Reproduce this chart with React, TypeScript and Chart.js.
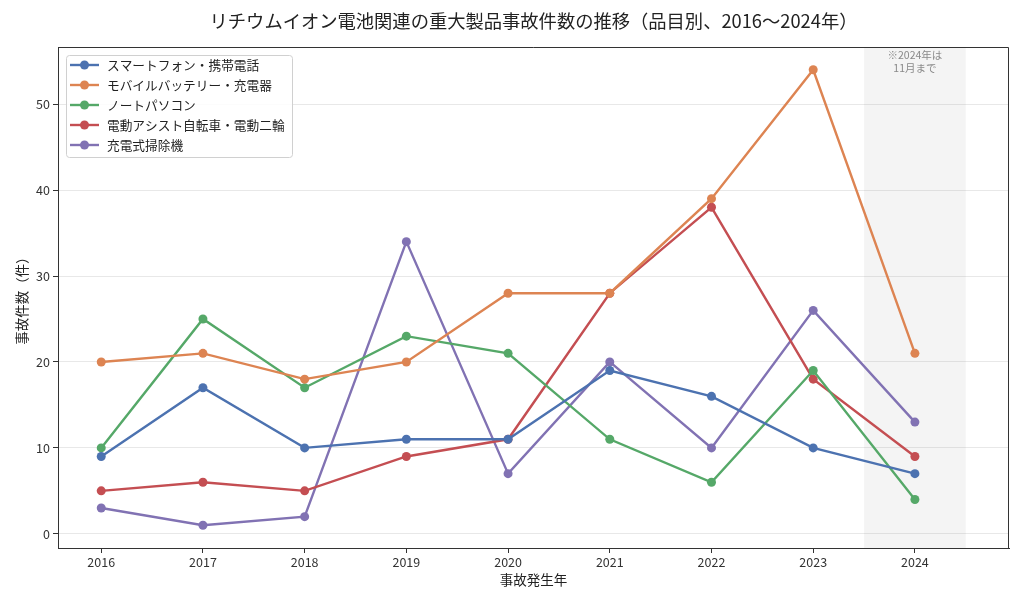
import React, { useEffect, useRef } from 'react';
import { Chart, registerables } from 'chart.js';
Chart.register(...registerables);

const years = [2016, 2017, 2018, 2019, 2020, 2021, 2022, 2023, 2024];
const seriesNames = [
  'スマートフォン・携帯電話',
  'モバイルバッテリー・充電器',
  'ノートパソコン',
  '電動アシスト自転車・電動二輪',
  '充電式掃除機',
];
const smartphone = [9, 17, 10, 11, 11, 19, 16, 10, 7];
const mobileBattery = [20, 21, 18, 20, 28, 28, 39, 54, 21];
const laptop = [10, 25, 17, 23, 21, 11, 6, 19, 4];
const eBike = [5, 6, 5, 9, 11, 28, 38, 18, 9];
const vacuum = [3, 1, 2, 34, 7, 20, 10, 26, 13];
const seriesValues = [smartphone, mobileBattery, laptop, eBike, vacuum];
const colors = ['#4C72B0', '#DD8452', '#55A868', '#C44E52', '#8172B3'];
const yTicks = [0, 10, 20, 30, 40, 50];
const titleText = 'リチウムイオン電池関連の重大製品事故件数の推移（品目別、2016～2024年）';
const xTitle = '事故発生年';
const yTitle = '事故件数（件）';
const noteLines = ['※2024年は', '11月まで'];
const partialYear = 2024;

const FONT = '"Noto Sans CJK JP", "Noto Sans", sans-serif';

const decorPlugin = {
  id: 'decor',
  beforeDatasetsDraw(chart: any) {
    const { ctx, chartArea, scales } = chart;
    const x = scales.x;
    const x0 = x.getPixelForValue(partialYear - 0.5);
    const x1 = x.getPixelForValue(partialYear + 0.5);
    ctx.save();
    ctx.fillStyle = 'rgba(128,128,128,0.09)';
    ctx.fillRect(x0, chartArea.top, x1 - x0, chartArea.bottom - chartArea.top);
    ctx.fillStyle = '#8a8a8a';
    ctx.font = `10.5px ${FONT}`;
    ctx.textAlign = 'center';
    ctx.textBaseline = 'middle';
    const cx = x.getPixelForValue(partialYear);
    noteLines.forEach((l, i) => ctx.fillText(l, cx, chartArea.top + 8 + i * 13));
    ctx.restore();
  },
  afterDraw(chart: any) {
    const { ctx, chartArea } = chart;
    ctx.save();
    // frame (top and right sides)
    ctx.strokeStyle = '#333';
    ctx.lineWidth = 1;
    ctx.beginPath();
    ctx.moveTo(chartArea.left, chartArea.top + 0.5);
    ctx.lineTo(chartArea.right - 0.5, chartArea.top + 0.5);
    ctx.lineTo(chartArea.right - 0.5, chartArea.bottom);
    ctx.stroke();
    // title
    ctx.fillStyle = '#222';
    ctx.textAlign = 'center';
    ctx.textBaseline = 'middle';
    ctx.font = `18.3px ${FONT}`;
    const cx = (chartArea.left + chartArea.right) / 2;
    ctx.fillText(titleText, cx, 21);
    ctx.font = `13.5px ${FONT}`;
    ctx.fillText(xTitle, cx, 580);
    ctx.save();
    ctx.translate(22, (chartArea.top + chartArea.bottom) / 2);
    ctx.rotate(-Math.PI / 2);
    ctx.fillText(yTitle, 0, 0);
    ctx.restore();
    // legend
    const lx = 66, ly = 55, lw = 226, lh = 102;
    ctx.beginPath();
    ctx.roundRect(lx + 0.5, ly + 0.5, lw, lh, 3);
    ctx.fillStyle = 'rgba(255,255,255,0.85)';
    ctx.fill();
    ctx.strokeStyle = '#d0d0d0';
    ctx.stroke();
    chart.data.datasets.forEach((ds: any, i: number) => {
      const yy = ly + 10 + i * 20;
      ctx.strokeStyle = ds.borderColor;
      ctx.lineWidth = 2.4;
      ctx.beginPath();
      ctx.moveTo(70, yy);
      ctx.lineTo(99, yy);
      ctx.stroke();
      ctx.fillStyle = ds.borderColor;
      ctx.beginPath();
      ctx.arc(84.5, yy, 4.5, 0, Math.PI * 2);
      ctx.fill();
      ctx.fillStyle = '#222';
      ctx.textAlign = 'left';
      ctx.font = `12.7px ${FONT}`;
      ctx.fillText(ds.label, 107, yy);
    });
    ctx.restore();
  },
};

export default function App() {
  const ref = useRef<HTMLCanvasElement>(null);
  useEffect(() => {
    document.body.style.margin = '0';
    const chart = new Chart(ref.current!, {
      type: 'line',
      data: {
        datasets: seriesNames.map((name, i) => ({
          label: name,
          data: years.map((yr, j) => ({ x: yr, y: seriesValues[i][j] })),
          borderColor: colors[i],
          backgroundColor: colors[i],
          pointBackgroundColor: colors[i],
          pointBorderColor: colors[i],
          borderWidth: 2.4,
          pointRadius: 4.5,
          pointBorderWidth: 0,
          tension: 0,
        })),
      },
      options: {
        responsive: false,
        animation: false,
        layout: { padding: { left: 0, right: 15, top: 47, bottom: 0 } },
        plugins: {
          legend: { display: false },
          title: { display: false },
          tooltip: { enabled: false },
        },
        scales: {
          x: {
            type: 'linear',
            min: 2015.575,
            max: 2024.925,
            afterBuildTicks: (s: any) => { s.ticks = years.map((v) => ({ value: v })); },
            afterFit: (s: any) => { s.height = 57; },
            ticks: { color: '#333', font: { family: FONT, size: 12.5 }, padding: 2, callback: (v: any) => String(v), maxRotation: 0, autoSkip: false },
            grid: { drawOnChartArea: false, tickColor: '#333', tickLength: 5 },
            border: { color: '#333', width: 1 },
          },
          y: {
            type: 'linear',
            min: -1.65,
            max: 56.65,
            afterBuildTicks: (s: any) => { s.ticks = yTicks.map((v) => ({ value: v })); },
            afterFit: (s: any) => { s.width = 58; },
            ticks: { color: '#333', font: { family: FONT, size: 12.5 }, padding: 3 },
            grid: { color: '#e8e8e8', lineWidth: 1, tickColor: '#333', tickLength: 5 },
            border: { color: '#333', width: 1 },
          },
        },
      },
      plugins: [decorPlugin],
    } as any);
    return () => chart.destroy();
  }, []);
  return <canvas ref={ref} width={1024} height={605} style={{ display: 'block' }} />;
}
